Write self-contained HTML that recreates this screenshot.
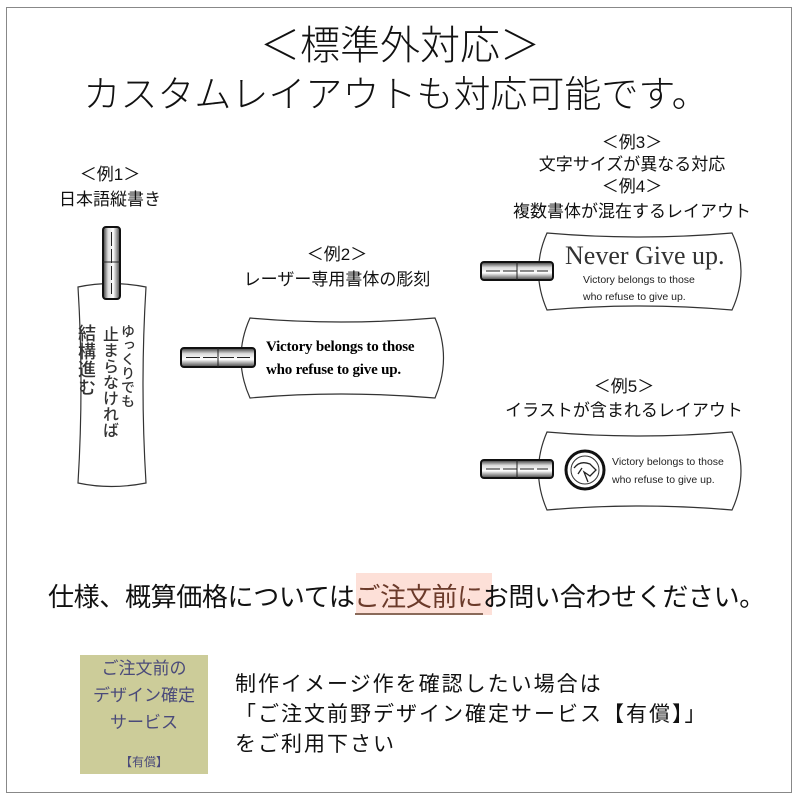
<!DOCTYPE html>
<html><head><meta charset="utf-8"><style>
body{margin:0;width:800px;height:800px;background:#fff;position:relative;overflow:hidden;font-family:"Liberation Sans","Noto Sans CJK JP",sans-serif;color:#111}
.frame{position:absolute;left:6px;top:7px;width:786px;height:786px;border:1px solid #888;box-sizing:border-box}
.t{position:absolute;white-space:nowrap;text-align:center;transform:translateX(-50%)}
.v{position:absolute;writing-mode:vertical-rl;font-family:"Noto Sans CJK JP",sans-serif;font-weight:500;color:#333;line-height:1}
svg{position:absolute;left:0;top:0}
</style></head><body>
<div class="frame"></div>
<div class="t" style="left:400px;top:22px;font-size:40px;line-height:48px;font-weight:300">＜標準外対応＞</div>
<div class="t" style="left:396px;top:71px;font-size:37px;line-height:48px;font-weight:300">カスタムレイアウトも対応可能です。</div>

<div class="t" style="left:110px;top:164px;font-size:17px;line-height:22px">＜例1＞</div>
<div class="t" style="left:110px;top:189px;font-size:17px;line-height:22px">日本語縦書き</div>
<div class="t" style="left:337px;top:244px;font-size:17px;line-height:22px">＜例2＞</div>
<div class="t" style="left:337px;top:269px;font-size:17px;line-height:22px">レーザー専用書体の彫刻</div>
<div class="t" style="left:632px;top:132px;font-size:17px;line-height:22px">＜例3＞</div>
<div class="t" style="left:632px;top:154px;font-size:17px;line-height:22px">文字サイズが異なる対応</div>
<div class="t" style="left:632px;top:176px;font-size:17px;line-height:22px">＜例4＞</div>
<div class="t" style="left:632px;top:201px;font-size:17px;line-height:22px">複数書体が混在するレイアウト</div>
<div class="t" style="left:624px;top:376px;font-size:17px;line-height:22px">＜例5＞</div>
<div class="t" style="left:624px;top:400px;font-size:17px;line-height:22px">イラストが含まれるレイアウト</div>

<svg width="800" height="800" viewBox="0 0 800 800">
<defs>
<linearGradient id="gv" x1="0" x2="1" y1="0" y2="0"><stop offset="0" stop-color="#333"/><stop offset=".3" stop-color="#ddd"/><stop offset=".6" stop-color="#fff"/><stop offset="1" stop-color="#444"/></linearGradient>
<linearGradient id="gh" x1="0" x2="0" y1="0" y2="1"><stop offset="0" stop-color="#333"/><stop offset=".3" stop-color="#ddd"/><stop offset=".6" stop-color="#fff"/><stop offset="1" stop-color="#444"/></linearGradient>
</defs>
<g fill="#fff" stroke="#333" stroke-width="1.2">
<path d="M78,287 Q111,280 146,287 Q140,385 146,483 Q111,490 78,483 Q84,385 78,287 Z"/>
<path d="M250,318 Q340,326 435,318 Q452,358 435,398 Q340,390 250,398 Q232,358 250,318 Z"/>
<path d="M547,233 Q640,241 732,233 Q750,271 732,310 Q640,302 547,310 Q530,271 547,233 Z"/>
<path d="M547,432 Q640,440 732,432 Q750,471 732,510 Q640,502 547,510 Q530,471 547,432 Z"/>
</g>
<g stroke="#111" stroke-width="2">
<rect x="103" y="227" width="17" height="72" rx="3" fill="url(#gv)"/>
<rect x="181" y="348" width="74" height="19" rx="3" fill="url(#gh)"/>
<rect x="481" y="262" width="72" height="18" rx="3" fill="url(#gh)"/>
<rect x="481" y="460" width="72" height="18" rx="3" fill="url(#gh)"/>
</g>
<g stroke="#222" stroke-width="1" fill="none">
<line x1="103" y1="262" x2="120" y2="262"/><line x1="111.5" y1="232" x2="111.5" y2="294" stroke-dasharray="14 3"/>
<line x1="218" y1="348" x2="218" y2="367"/><line x1="186" y1="357.5" x2="250" y2="357.5" stroke-dasharray="14 3"/>
<line x1="517" y1="262" x2="517" y2="280"/><line x1="486" y1="271" x2="548" y2="271" stroke-dasharray="14 3"/>
<line x1="517" y1="460" x2="517" y2="478"/><line x1="486" y1="469" x2="548" y2="469" stroke-dasharray="14 3"/>
</g>
<circle cx="585" cy="470" r="19" fill="#fff" stroke="#111" stroke-width="3"/>
<circle cx="585" cy="470" r="14" fill="none" stroke="#333" stroke-width="1"/>
<path d="M574,468 Q580,460 590,464 L596,470 L590,476 L584,472 L588,482 M578,474 L582,468" fill="none" stroke="#222" stroke-width="1.3"/>
</svg>

<div class="v" style="left:121px;top:324px;font-size:14px">ゆっくりでも</div>
<div class="v" style="left:103px;top:326px;font-size:16px">止まらなければ</div>
<div class="v" style="left:78px;top:324px;font-size:18px">結構進む</div>

<div style="position:absolute;left:266px;top:336px;font-family:'Liberation Serif',serif;font-weight:bold;font-size:15px;line-height:23px;color:#000;white-space:nowrap;letter-spacing:-0.2px">Victory belongs to those<br>who refuse to give up.</div>

<div style="position:absolute;left:565px;top:241px;font-family:'Liberation Serif',serif;font-size:26px;line-height:30px;color:#333;white-space:nowrap">Never Give up.</div>
<div style="position:absolute;left:583px;top:272px;font-size:10.5px;line-height:17px;color:#222;white-space:nowrap">Victory belongs to those<br>who refuse to give up.</div>
<div style="position:absolute;left:612px;top:453px;font-size:10.5px;line-height:18px;color:#222;white-space:nowrap">Victory belongs to those<br>who refuse to give up.</div>

<div style="position:absolute;left:356px;top:573px;width:136px;height:42px;background:#fde0d8"></div>
<div style="position:absolute;left:48px;top:579px;font-size:26px;line-height:36px;white-space:nowrap;letter-spacing:-0.35px">仕様、概算価格については<span style="color:#6b3a2a;border-bottom:2px solid #8a6a5a;padding-bottom:1px">ご注文前に</span>お問い合わせください。</div>

<div style="position:absolute;left:80px;top:655px;width:128px;height:119px;background:#cccc99;color:#4a4a7a;text-align:center;font-size:17px;line-height:27px">
<div>ご注文前の</div><div>デザイン確定</div><div>サービス</div><div style="font-size:12px;margin-top:18px;line-height:16px">【有償】</div></div>
<div style="position:absolute;left:235px;top:670px;font-size:21px;line-height:30px;white-space:nowrap;letter-spacing:2px">制作イメージ作を確認したい場合は<br>「ご注文前野デザイン確定サービス【有償】」<br>をご利用下さい</div>
</body></html>
